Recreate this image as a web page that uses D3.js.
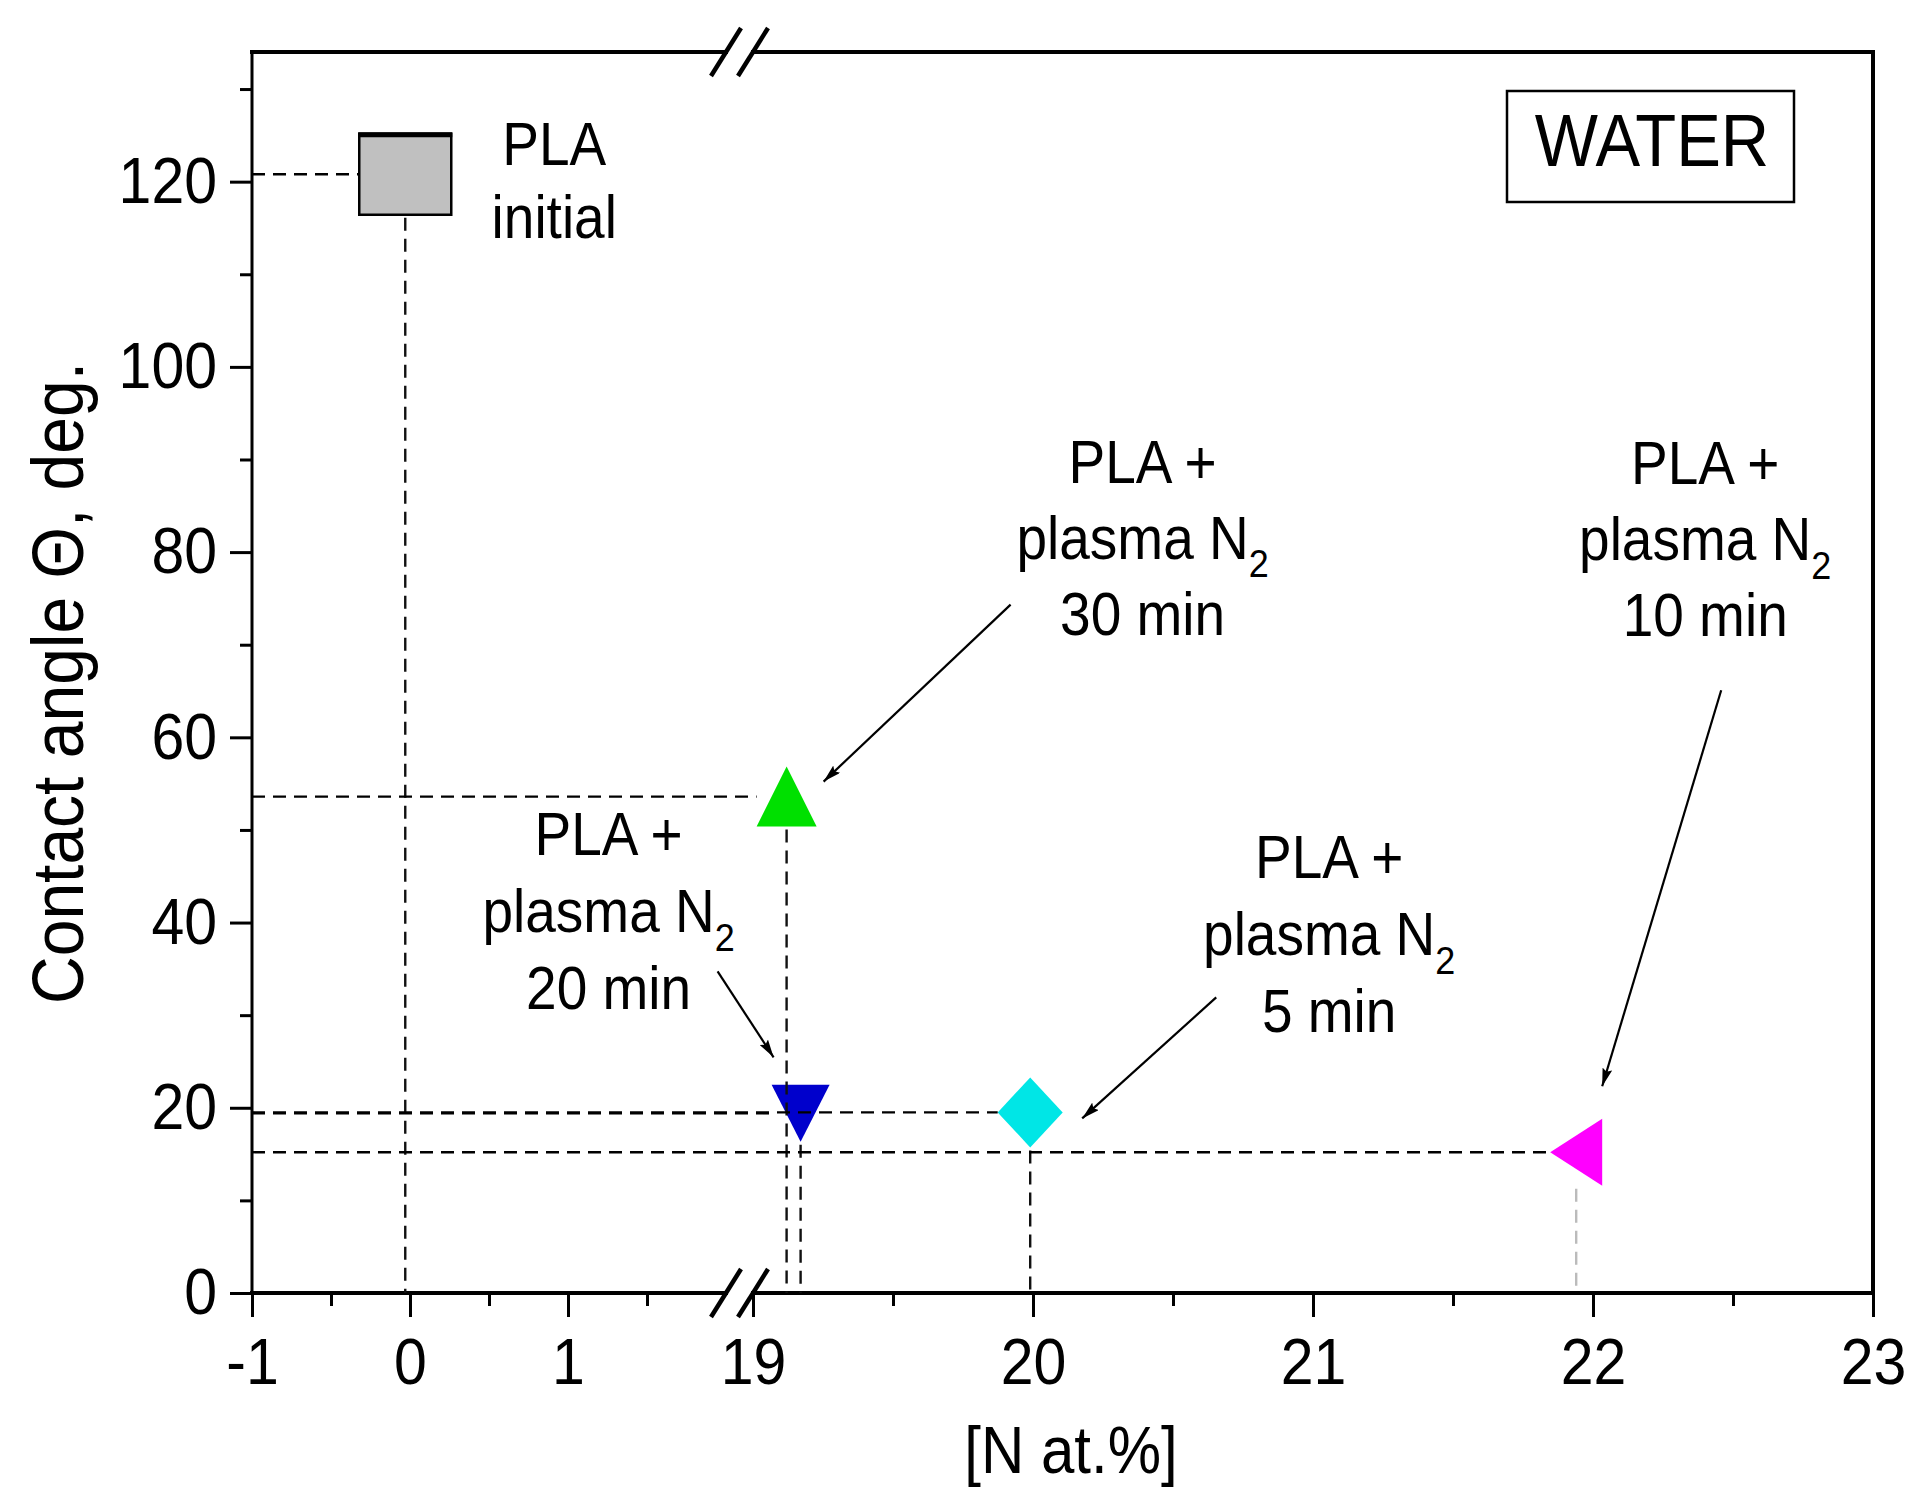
<!DOCTYPE html>
<html>
<head>
<meta charset="utf-8">
<script src="https://cdn.jsdelivr.net/npm/d3@7/dist/d3.min.js"></script>
<style>
  body { margin: 0; background: #fff; }
  text { font-family: "Liberation Sans", Arial, sans-serif; fill: #000; }
</style>
</head>
<body>
<svg id="chart" width="1931" height="1502"></svg>
<script>
// ---------------- data ----------------
const sampleNames   = ["PLA initial", "PLA + plasma N2 30 min", "PLA + plasma N2 20 min", "PLA + plasma N2 5 min", "PLA + plasma N2 10 min"];
const nitrogenAtPct = [-0.03, 19.12, 19.17, 19.99, 21.94];
const contactAngle  = [120.8, 53.6, 19.4, 19.5, 15.2];
const labelLines = [
  ["PLA", "initial"],
  ["PLA +", "plasma N|2", "30 min"],
  ["PLA +", "plasma N|2", "20 min"],
  ["PLA +", "plasma N|2", "5 min"],
  ["PLA +", "plasma N|2", "10 min"]
];
const xTicksLeft  = [-1, 0, 1];
const xTicksRight = [19, 20, 21, 22, 23];
const xMinorLeft  = [-0.5, 0.5, 1.5];
const xMinorRight = [19.5, 20.5, 21.5, 22.5];
const yTicks      = [0, 20, 40, 60, 80, 100, 120];
const yMinor      = [10, 30, 50, 70, 90, 110, 130];
const xTitle = "[N at.%]";
const yTitle = "Contact angle \u0398, deg.";
const boxLabel = "WATER";

// ---------------- styles / layout ----------------
const markerStyle = [
  { shape: "square",   w: 92, h: 81, fill: "#c0c0c0", stroke: "#000" },
  { shape: "up",       w: 60, h: 60, fill: "#00e000", stroke: "none" },
  { shape: "down",     w: 58, h: 57, fill: "#0000cc", stroke: "none" },
  { shape: "diamond",  w: 65, h: 70, fill: "#00e6e6", stroke: "none" },
  { shape: "left",     w: 52, h: 67, fill: "#ff00ff", stroke: "none" }
];
// label offsets (pixels) relative to the marker; arrow start / tip offsets relative to marker
const annot = [
  { tdx: 149, tdy: -9,   arrow: null },
  { tdx: 356, tdy: -314, arrow: [224, -192, 37, -15] },
  { tdx: -192, tdy: -258, arrow: [-83, -142, -27, -56] },
  { tdx: 299, tdy: -234, arrow: [186, -115, 52, 6] },
  { tdx: 129, tdy: -668, arrow: [145, -462, 26, -66] }
];
const lineGap = [73, 76, 77, 77, 76];
const SY = 1.1; // vertical stretch of the glyphs, as in the original

const L = 252, R = 1873, T = 52, B = 1293;
const xl = d3.scaleLinear().domain([-1, 2]).range([L, 726]);
const xr = d3.scaleLinear().domain([19, 23]).range([753, R]);
const xs = v => (v < 10 ? xl(v) : xr(v));
const y = d3.scaleLinear().domain([0, 134]).range([B, T]);

const svg = d3.select("#chart");
svg.append("rect").attr("width", 1931).attr("height", 1502).attr("fill", "#fff");

svg.append("defs").append("marker")
  .attr("id", "arr").attr("viewBox", "0 0 18 10").attr("refX", 18).attr("refY", 5)
  .attr("markerWidth", 18).attr("markerHeight", 10).attr("markerUnits", "userSpaceOnUse")
  .attr("orient", "auto")
  .append("path").attr("d", "M0,0 L18,5 L0,10 L3,5 z").attr("fill", "#000");

// ---------------- axes ----------------
const fs = 59;
function styleAxis(g) {
  g.select(".domain").remove();
  g.selectAll(".tick line").attr("stroke", "#000").attr("stroke-width", 3);
  g.selectAll(".tick text").attr("font-size", fs).attr("font-family", '"Liberation Sans", Arial, sans-serif').attr("fill", "#000")
    .each(function () {
      const t = d3.select(this);
      const yy = +t.attr("y") || 0;
      t.attr("y", yy / SY).attr("transform", `scale(1,${SY})`);
    });
}
const xTickLabel = d => (d < 0 ? "-" + Math.abs(d) : String(d));
svg.append("g").attr("transform", `translate(0,${B})`)
  .call(d3.axisBottom(xl).tickValues(xTicksLeft).tickSize(24).tickPadding(21).tickFormat(xTickLabel)).call(styleAxis);
svg.append("g").attr("transform", `translate(0,${B})`)
  .call(d3.axisBottom(xr).tickValues(xTicksRight).tickSize(24).tickPadding(21).tickFormat(xTickLabel)).call(styleAxis);
svg.append("g").attr("transform", `translate(0,${B})`)
  .call(d3.axisBottom(xl).tickValues(xMinorLeft).tickSize(13).tickFormat("")).call(styleAxis);
svg.append("g").attr("transform", `translate(0,${B})`)
  .call(d3.axisBottom(xr).tickValues(xMinorRight).tickSize(13).tickFormat("")).call(styleAxis);
svg.append("g").attr("transform", `translate(${L},0)`)
  .call(d3.axisLeft(y).tickValues(yTicks).tickSize(22).tickPadding(13)).call(styleAxis);
svg.append("g").attr("transform", `translate(${L},0)`)
  .call(d3.axisLeft(y).tickValues(yMinor).tickSize(12).tickFormat("")).call(styleAxis);

// frame with break
const frame = svg.append("g").attr("stroke", "#000").attr("stroke-width", 4).attr("stroke-linecap", "square");
frame.append("line").attr("x1", L).attr("x2", L).attr("y1", T).attr("y2", B).attr("stroke-width", 3);
frame.append("line").attr("x1", R).attr("x2", R).attr("y1", T).attr("y2", B);
[T, B].forEach(yy => {
  frame.append("line").attr("x1", L).attr("x2", xl(2)).attr("y1", yy).attr("y2", yy);
  frame.append("line").attr("x1", xr(19)).attr("x2", R).attr("y1", yy).attr("y2", yy);
  [xl(2), xr(19)].forEach(cx => {
    svg.append("line").attr("x1", cx - 15).attr("y1", yy + 24).attr("x2", cx + 15).attr("y2", yy - 24)
      .attr("stroke", "#000").attr("stroke-width", 4.5);
  });
});

// ---------------- markers ----------------
function shapePath(s, cx, cy) {
  const w = s.w / 2, h = s.h / 2;
  switch (s.shape) {
    case "up":      return `M${cx},${cy - h}L${cx + w},${cy + h}L${cx - w},${cy + h}Z`;
    case "down":    return `M${cx - w},${cy - h}L${cx + w},${cy - h}L${cx},${cy + h}Z`;
    case "diamond": return `M${cx},${cy - h}L${cx + w},${cy}L${cx},${cy + h}L${cx - w},${cy}Z`;
    case "left":    return `M${cx - w},${cy}L${cx + w},${cy - h}L${cx + w},${cy + h}Z`;
    default:        return `M${cx - w},${cy - h}H${cx + w}V${cy + h}H${cx - w}Z`;
  }
}
const pts = nitrogenAtPct.map((v, i) => ({ x: xs(v), y: y(contactAngle[i]), s: markerStyle[i], i }));

svg.append("g").selectAll("path").data(pts).join("path")
  .attr("d", d => shapePath(d.s, d.x, d.y))
  .attr("fill", d => d.s.fill)
  .attr("stroke", d => d.s.stroke)
  .attr("stroke-width", 2.5);
// thicker top edge of square
svg.append("line")
  .attr("x1", pts[0].x - pts[0].s.w / 2 - 1).attr("x2", pts[0].x + pts[0].s.w / 2 + 1)
  .attr("y1", pts[0].y - pts[0].s.h / 2 + 1).attr("y2", pts[0].y - pts[0].s.h / 2 + 1)
  .attr("stroke", "#000").attr("stroke-width", 5);

// drop lines
const drop = svg.append("g").attr("fill", "none").attr("stroke-width", 2.4).attr("stroke-dasharray", "13,8");
pts.forEach(d => {
  drop.append("line").attr("x1", L).attr("x2", d.x - d.s.w / 2).attr("y1", d.y).attr("y2", d.y).attr("stroke", "#000");
  drop.append("line").attr("x1", d.x).attr("x2", d.x).attr("y1", d.y + d.s.h / 2 + 3).attr("y2", B)
    .attr("stroke", d.i === 4 ? "#bbb" : "#111");
});

// ---------------- annotations ----------------
const afs = 55;
pts.forEach((d, i) => {
  const a = annot[i];
  const tx = d.x + a.tdx, ty = d.y + a.tdy;
  labelLines[i].forEach((ln, k) => {
    const t = svg.append("text")
      .attr("transform", `translate(${tx},${ty + k * lineGap[i]}) scale(1,${SY})`)
      .attr("text-anchor", "middle").attr("font-size", afs);
    const parts = ln.split("|");
    t.append("tspan").text(parts[0]);
    if (parts[1]) t.append("tspan").attr("font-size", 36).attr("dy", 17).text(parts[1]);
  });
  if (a.arrow) {
    svg.append("line")
      .attr("x1", d.x + a.arrow[0]).attr("y1", d.y + a.arrow[1])
      .attr("x2", d.x + a.arrow[2]).attr("y2", d.y + a.arrow[3])
      .attr("stroke", "#000").attr("stroke-width", 2.2).attr("marker-end", "url(#arr)");
  }
});

// WATER box
svg.append("rect").attr("x", 1507).attr("y", 91).attr("width", 287).attr("height", 111)
  .attr("fill", "#fff").attr("stroke", "#000").attr("stroke-width", 2.5);
svg.append("text").attr("transform", `translate(1652,166) scale(1,${SY})`).attr("text-anchor", "middle")
  .attr("font-size", 67).text(boxLabel);

// axis titles
svg.append("text").attr("transform", `translate(1071,1473) scale(1,${SY})`).attr("text-anchor", "middle")
  .attr("font-size", 60).text(xTitle);
svg.append("text").attr("transform", `translate(83,683) rotate(-90) scale(1,${SY})`).attr("text-anchor", "middle")
  .attr("font-size", 66).text(yTitle);
</script>
</body>
</html>
